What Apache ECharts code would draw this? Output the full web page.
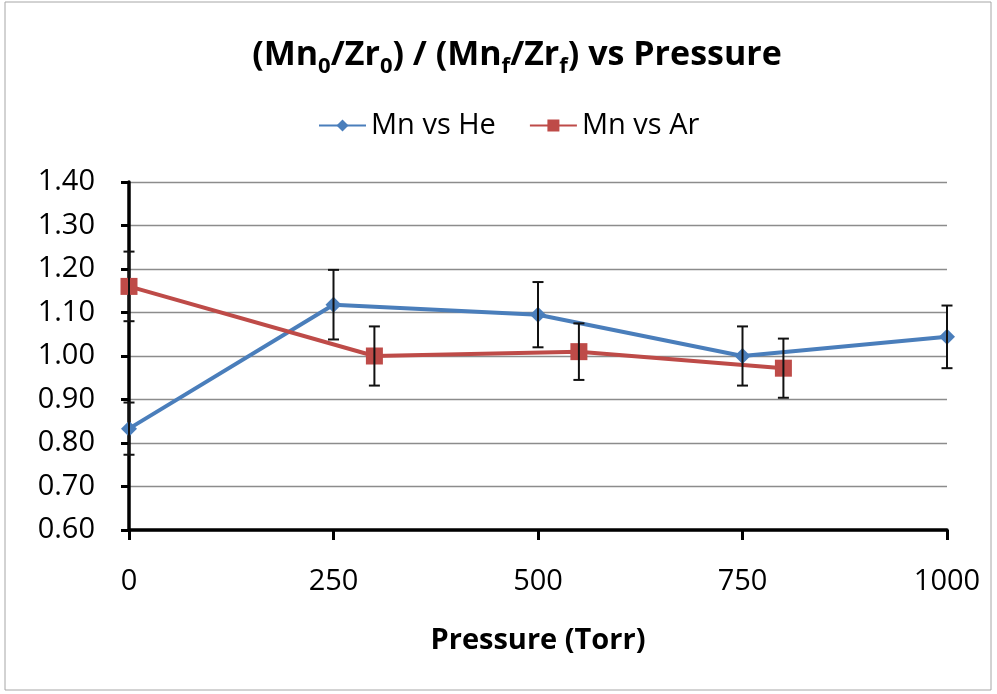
<!DOCTYPE html>
<html>
<head>
<meta charset="utf-8">
<style>
  * { margin: 0; padding: 0; }
  body { background: #fff; width: 997px; height: 694px; overflow: hidden; }
  #chart { width: 997px; height: 694px; }
</style>
<script src="https://cdn.jsdelivr.net/npm/echarts@6/dist/echarts.min.js"></script>
</head>
<body>
<div id="chart"></div>
<script>
// data
const xTicks = [0, 250, 500, 750, 1000];
const hePressure = [0, 250, 500, 750, 1000];
const heRatio = [0.833, 1.118, 1.095, 1.0, 1.044];
const heError = [0.06, 0.08, 0.075, 0.068, 0.072];
const arPressure = [0, 300, 550, 800];
const arRatio = [1.16, 1.0, 1.01, 0.972];
const arError = [0.08, 0.068, 0.065, 0.068];

const FONT = "'Open Sans', 'Liberation Sans', sans-serif";

function pairs(xs, ys) {
  return xs.map((x, i) => [x, ys[i]]);
}

function errorData(xs, ys, es) {
  return xs.map((x, i) => [x, ys[i] - es[i], ys[i] + es[i]]);
}

// vertical error bar with caps
function renderErrorBar(params, api) {
  const lo = api.coord([api.value(0), api.value(1)]);
  const hi = api.coord([api.value(0), api.value(2)]);
  const half = 5.5;
  const style = { stroke: '#111', lineWidth: 2 };
  return {
    type: 'group',
    children: [
      { type: 'line', shape: { x1: lo[0], y1: lo[1], x2: hi[0], y2: hi[1] }, style },
      { type: 'line', shape: { x1: hi[0] - half, y1: hi[1], x2: hi[0] + half, y2: hi[1] }, style },
      { type: 'line', shape: { x1: lo[0] - half, y1: lo[1], x2: lo[0] + half, y2: lo[1] }, style }
    ]
  };
}

const chart = echarts.init(document.getElementById('chart'));

const option = {
  animation: false,
  backgroundColor: '#fff',
  graphic: [{
    type: 'rect',
    shape: { x: 5, y: 2, width: 986, height: 688 },
    style: { fill: 'none', stroke: '#a6a6a6', lineWidth: 1 },
    silent: true
  }],
  title: {
    text: '{t|(Mn}{sub|0}{t|/Zr}{sub|0}{t|) / (Mn}{sub|f}{t|/Zr}{sub|f}{t|) vs Pressure}',
    left: 512,
    textAlign: 'center',
    top: 27,
    textStyle: {
      rich: {
        t: {
          fontFamily: FONT,
          fontSize: 34,
          fontWeight: 'bold',
          color: '#000',
          lineHeight: 46
        },
        sub: {
          fontFamily: FONT,
          fontSize: 22,
          fontWeight: 'bold',
          color: '#000',
          lineHeight: 22,
          verticalAlign: 'bottom'
        }
      }
    }
  },
  legend: {
    data: ['Mn vs He', 'Mn vs Ar'],
    top: 106,
    left: 313,
    itemWidth: 47,
    itemHeight: 15,
    itemGap: 33,
    textStyle: { fontFamily: FONT, fontSize: 29, color: '#000' }
  },
  grid: { left: 129, right: 50, top: 182, bottom: 164, containLabel: false },
  xAxis: {
    type: 'value',
    min: 0,
    max: 1000,
    interval: 250,
    name: 'Pressure (Torr)',
    nameLocation: 'middle',
    nameGap: 96,
    nameTextStyle: { fontFamily: FONT, fontSize: 29, fontWeight: 'bold', color: '#000' },
    axisLine: { lineStyle: { color: '#000', width: 3.5 } },
    axisTick: { show: true, length: 10, lineStyle: { color: '#000', width: 3 } },
    axisLabel: {
      fontFamily: FONT, fontSize: 29, color: '#000', margin: 37,
      formatter: v => xTicks.includes(v) ? String(v) : ''
    },
    splitLine: { show: false }
  },
  yAxis: {
    type: 'value',
    min: 0.6,
    max: 1.4,
    interval: 0.1,
    axisLine: { show: true, lineStyle: { color: '#000', width: 3.5 } },
    axisTick: { show: true, length: 8, lineStyle: { color: '#000', width: 3 } },
    axisLabel: {
      fontFamily: FONT, fontSize: 29, color: '#000', margin: 34,
      formatter: v => v.toFixed(2)
    },
    splitLine: { lineStyle: { color: '#8c8c8c', width: 1.3 } }
  },
  series: [
    {
      name: 'Mn vs He',
      type: 'line',
      data: pairs(hePressure, heRatio),
      symbol: 'diamond',
      symbolSize: 16,
      color: '#4a7ebb',
      lineStyle: { width: 4, color: '#4a7ebb' },
      itemStyle: { color: '#4a7ebb' },
      z: 3
    },
    {
      name: 'Mn vs Ar',
      type: 'line',
      data: pairs(arPressure, arRatio),
      symbol: 'rect',
      symbolSize: 17,
      color: '#be4b48',
      lineStyle: { width: 4, color: '#be4b48' },
      itemStyle: { color: '#be4b48' },
      z: 3
    },
    {
      type: 'custom',
      renderItem: renderErrorBar,
      data: errorData(hePressure, heRatio, heError),
      encode: { x: 0, y: [1, 2] },
      z: 4,
      silent: true
    },
    {
      type: 'custom',
      renderItem: renderErrorBar,
      data: errorData(arPressure, arRatio, arError),
      encode: { x: 0, y: [1, 2] },
      z: 4,
      silent: true
    }
  ]
};

chart.setOption(option);
</script>
</body>
</html>
